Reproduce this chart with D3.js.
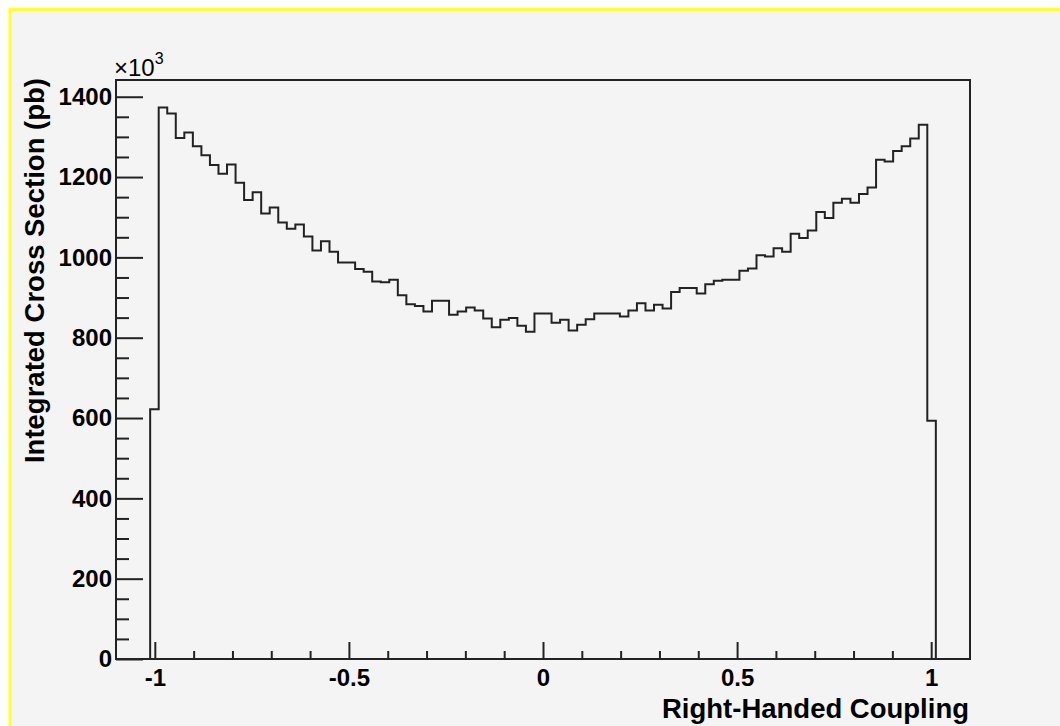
<!DOCTYPE html>
<meta charset="utf-8">
<style>
body { margin: 0; background: #fff; }
text { font-family: "Liberation Sans", Arial, Helvetica, sans-serif; fill: #000; }
.tick text { font-weight: bold; font-size: 24px; }
.axis path { display: none; }
.axis line { stroke: #222; stroke-width: 2; }
</style>
<body>
<script src="https://d3js.org/d3.v7.min.js"></script>
<script>

// histogram: 100 bins over [-1.1, 1.1]
var binLow = -1.1,
    binHigh = 1.1;

var counts = [
  0, 0, 0, 0, 622, 1373, 1358, 1297, 1311, 1277,
  1254, 1230, 1208, 1231, 1186, 1143, 1162, 1109, 1124, 1087,
  1071, 1082, 1052, 1017, 1040, 1014, 987, 987, 971, 964,
  940, 938, 944, 906, 883, 879, 865, 892, 892, 857,
  865, 875, 868, 848, 826, 845, 849, 830, 815, 860,
  860, 837, 845, 818, 832, 846, 860, 860, 860, 853,
  868, 886, 868, 882, 873, 914, 924, 924, 910, 933,
  942, 944, 944, 967, 972, 1005, 1002, 1023, 1014, 1059,
  1048, 1067, 1113, 1098, 1136, 1146, 1136, 1158, 1174, 1243,
  1239, 1265, 1277, 1296, 1330, 593, 0, 0, 0, 0
];

var xMajor = [-1, -0.5, 0, 0.5, 1];
var xMinor = [-0.9, -0.8, -0.7, -0.6, -0.4, -0.3, -0.2, -0.1,
              0.1, 0.2, 0.3, 0.4, 0.6, 0.7, 0.8, 0.9];
var yMajor = [0, 200, 400, 600, 800, 1000, 1200, 1400];
var yMinor = [50, 100, 150, 250, 300, 350, 450, 500, 550, 650, 700, 750,
              850, 900, 950, 1050, 1100, 1150, 1250, 1300, 1350];

var xTitle = "Right-Handed Coupling",
    yTitle = "Integrated Cross Section (pb)";

var width = 1060,
    height = 726,
    frame = {left: 116, right: 970, top: 80, bottom: 659};

var svg = d3.select("body").append("svg")
    .attr("width", width)
    .attr("height", height);

// pad + yellow border
svg.append("rect")
    .attr("x", 10).attr("y", 9.5)
    .attr("width", width + 10).attr("height", height + 10)
    .attr("fill", "#f4f4f4")
    .attr("stroke", "#ffff33")
    .attr("stroke-width", 3);

var binWidth = (binHigh - binLow) / counts.length;
var yMax = d3.max(counts) * 1.05;

var x = d3.scaleLinear()
    .domain([binLow, binHigh])
    .range([frame.left, frame.right]);

var y = d3.scaleLinear()
    .domain([0, yMax])
    .range([frame.bottom, frame.top]);

var fmt = function(d) { return String(d); };

// x axis
svg.append("g")
    .attr("class", "axis")
    .attr("transform", "translate(0," + frame.bottom + ")")
    .call(d3.axisBottom(x).tickValues(xMajor).tickSize(-17).tickPadding(10).tickFormat(fmt));

svg.append("g")
    .attr("class", "axis")
    .attr("transform", "translate(0," + frame.bottom + ")")
    .call(d3.axisBottom(x).tickValues(xMinor).tickSize(-8).tickFormat(""));

// y axis
svg.append("g")
    .attr("class", "axis")
    .attr("transform", "translate(" + frame.left + ",0)")
    .call(d3.axisLeft(y).tickValues(yMajor).tickSize(-27).tickPadding(4).tickFormat(fmt));

svg.append("g")
    .attr("class", "axis")
    .attr("transform", "translate(" + frame.left + ",0)")
    .call(d3.axisLeft(y).tickValues(yMinor).tickSize(-13).tickFormat(""));

// histogram outline
var pts = [[binLow, 0]];
counts.forEach(function(c, i) {
  var lo = binLow + i * binWidth;
  pts.push([lo, c], [lo + binWidth, c]);
});
pts.push([binHigh, 0]);

svg.append("path")
    .datum(pts)
    .attr("fill", "none")
    .attr("stroke", "#222")
    .attr("stroke-width", 2)
    .attr("d", d3.line().x(function(d) { return x(d[0]); }).y(function(d) { return y(d[1]); }));

// frame
svg.append("rect")
    .attr("x", frame.left).attr("y", frame.top)
    .attr("width", frame.right - frame.left)
    .attr("height", frame.bottom - frame.top)
    .attr("fill", "none")
    .attr("stroke", "#222")
    .attr("stroke-width", 2);

// titles
svg.append("text")
    .attr("x", frame.right - 1)
    .attr("y", 718)
    .attr("text-anchor", "end")
    .style("font-weight", "bold")
    .style("font-size", "27.5px")
    .text(xTitle);

svg.append("text")
    .attr("transform", "translate(44,78) rotate(-90)")
    .attr("text-anchor", "end")
    .style("font-weight", "bold")
    .style("font-size", "27.5px")
    .text(yTitle);

// exponent
var ex = svg.append("text")
    .attr("x", 114)
    .attr("y", 76)
    .style("font-size", "24px");
ex.append("tspan").text("\u00d710");
ex.append("tspan").attr("dy", -12).style("font-size", "16px").text("3");

</script>
